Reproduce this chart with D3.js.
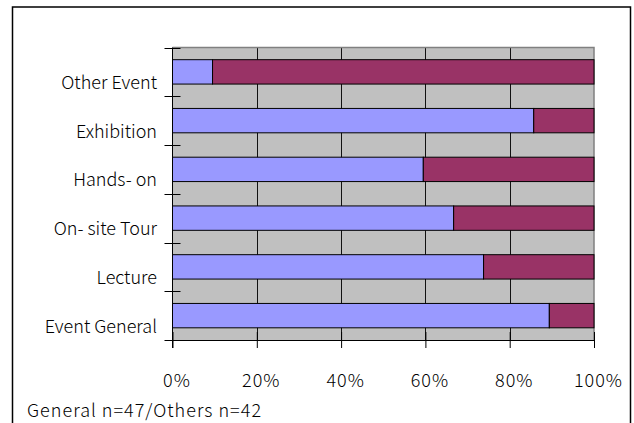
<!DOCTYPE html>
<html>
<head>
<meta charset="utf-8">
<script src="https://cdn.jsdelivr.net/npm/d3@7/dist/d3.min.js"></script>
<style>
  body { margin: 0; background: #fff; }
  svg { display: block; }
  text { font-family: "Noto Sans CJK JP", "Noto Sans", sans-serif; font-weight: 300; fill: #000; }
</style>
</head>
<body>
<svg id="chart" width="634" height="423"></svg>
<script>
// Share of responses per event type (percent), top to bottom
const categories = ["Other Event", "Exhibition", "Hands- on", "On- site Tour", "Lecture", "Event General"];
const seriesA = [9.5, 85.7, 59.5, 66.7, 73.8, 89.4];
const seriesB = [90.5, 14.3, 40.5, 33.3, 26.2, 10.6];
const xTicks = [0, 20, 40, 60, 80, 100];
const footnote = "General n=47/Others n=42";
const seriesColors = ["#9999FF", "#993366"];

const svg = d3.select("#chart");

// Outer frame
svg.append("rect")
  .attr("x", 12.5).attr("y", 7).attr("width", 618).attr("height", 440)
  .attr("fill", "#fff").attr("stroke", "#000").attr("stroke-width", 1.5);

const plot = { left: 172.5, right: 594, top: 47.5, bottom: 340 };

const x = d3.scaleLinear().domain([0, 100]).range([plot.left, plot.right]);
const y = d3.scaleBand().domain(categories)
  .range([plot.top, plot.bottom]).paddingInner(0.5).paddingOuter(0.25);
const step = y.step();

// Plot background
svg.append("rect")
  .attr("x", plot.left).attr("y", plot.top)
  .attr("width", plot.right - plot.left).attr("height", plot.bottom - plot.top)
  .attr("fill", "#C0C0C0");

// Vertical gridlines
svg.append("g").selectAll("line").data(xTicks.slice(1, -1)).join("line")
  .attr("x1", d => Math.round(x(d)) + 0.5).attr("x2", d => Math.round(x(d)) + 0.5)
  .attr("y1", plot.top).attr("y2", plot.bottom)
  .attr("stroke", "#111").attr("stroke-width", 1);

// Plot area border (top and right)
svg.append("path")
  .attr("d", `M${plot.left},${plot.top}H${plot.right}V${plot.bottom}`)
  .attr("fill", "none").attr("stroke", "#808080").attr("stroke-width", 1.5);

// Stacked bars
const stackData = categories.map((c, i) => ({ cat: c, a: seriesA[i], b: seriesB[i] }));
const stacked = d3.stack().keys(["a", "b"])(stackData);

svg.append("g").selectAll("g").data(stacked).join("g")
  .attr("fill", (d, i) => seriesColors[i])
  .selectAll("rect").data(d => d).join("rect")
    .attr("x", d => x(d[0]))
    .attr("y", d => y(d.data.cat))
    .attr("width", d => x(d[1]) - x(d[0]))
    .attr("height", y.bandwidth())
    .attr("stroke", "#000").attr("stroke-width", 1);

// Category axis: line, crossing ticks at band boundaries, labels
const gy = svg.append("g");
gy.append("line")
  .attr("x1", plot.left).attr("x2", plot.left)
  .attr("y1", plot.top).attr("y2", plot.bottom + 8)
  .attr("stroke", "#000").attr("stroke-width", 1);
const boundaries = categories.map(c => y(c) - step * y.paddingInner() / 2);
gy.selectAll("line.tick").data(boundaries).join("line")
  .attr("class", "tick")
  .attr("x1", plot.left - 8).attr("x2", plot.left + 8)
  .attr("y1", d => Math.round(d) + 0.5).attr("y2", d => Math.round(d) + 0.5)
  .attr("stroke", "#000").attr("stroke-width", 1);
gy.selectAll("text").data(categories).join("text")
  .attr("x", 157)
  .attr("y", d => y(d) + y.bandwidth() / 2 + 17)
  .attr("text-anchor", "end")
  .attr("font-size", 18)
  .text(d => d);

// Value axis
const gx = svg.append("g").attr("transform", `translate(0,${plot.bottom})`)
  .call(d3.axisBottom(x).tickValues(xTicks).tickFormat(d => d + "%").tickSize(8).tickSizeOuter(0));
gx.select(".domain").attr("d", `M${plot.left - 8},0.5H${plot.right}`).attr("stroke", "#000");
gx.selectAll(".tick line").attr("y1", -8).attr("y2", 8).attr("stroke", "#000");
gx.selectAll(".tick text")
  .attr("y", 47).attr("dy", null).attr("dx", 4)
  .attr("font-size", 18).attr("font-family", null).attr("fill", "#000")
  .attr("letter-spacing", 1);

// Sample size note
svg.append("text")
  .attr("x", 27).attr("y", 417)
  .attr("font-size", 18)
  .attr("letter-spacing", 1)
  .text(footnote);
</script>
</body>
</html>
